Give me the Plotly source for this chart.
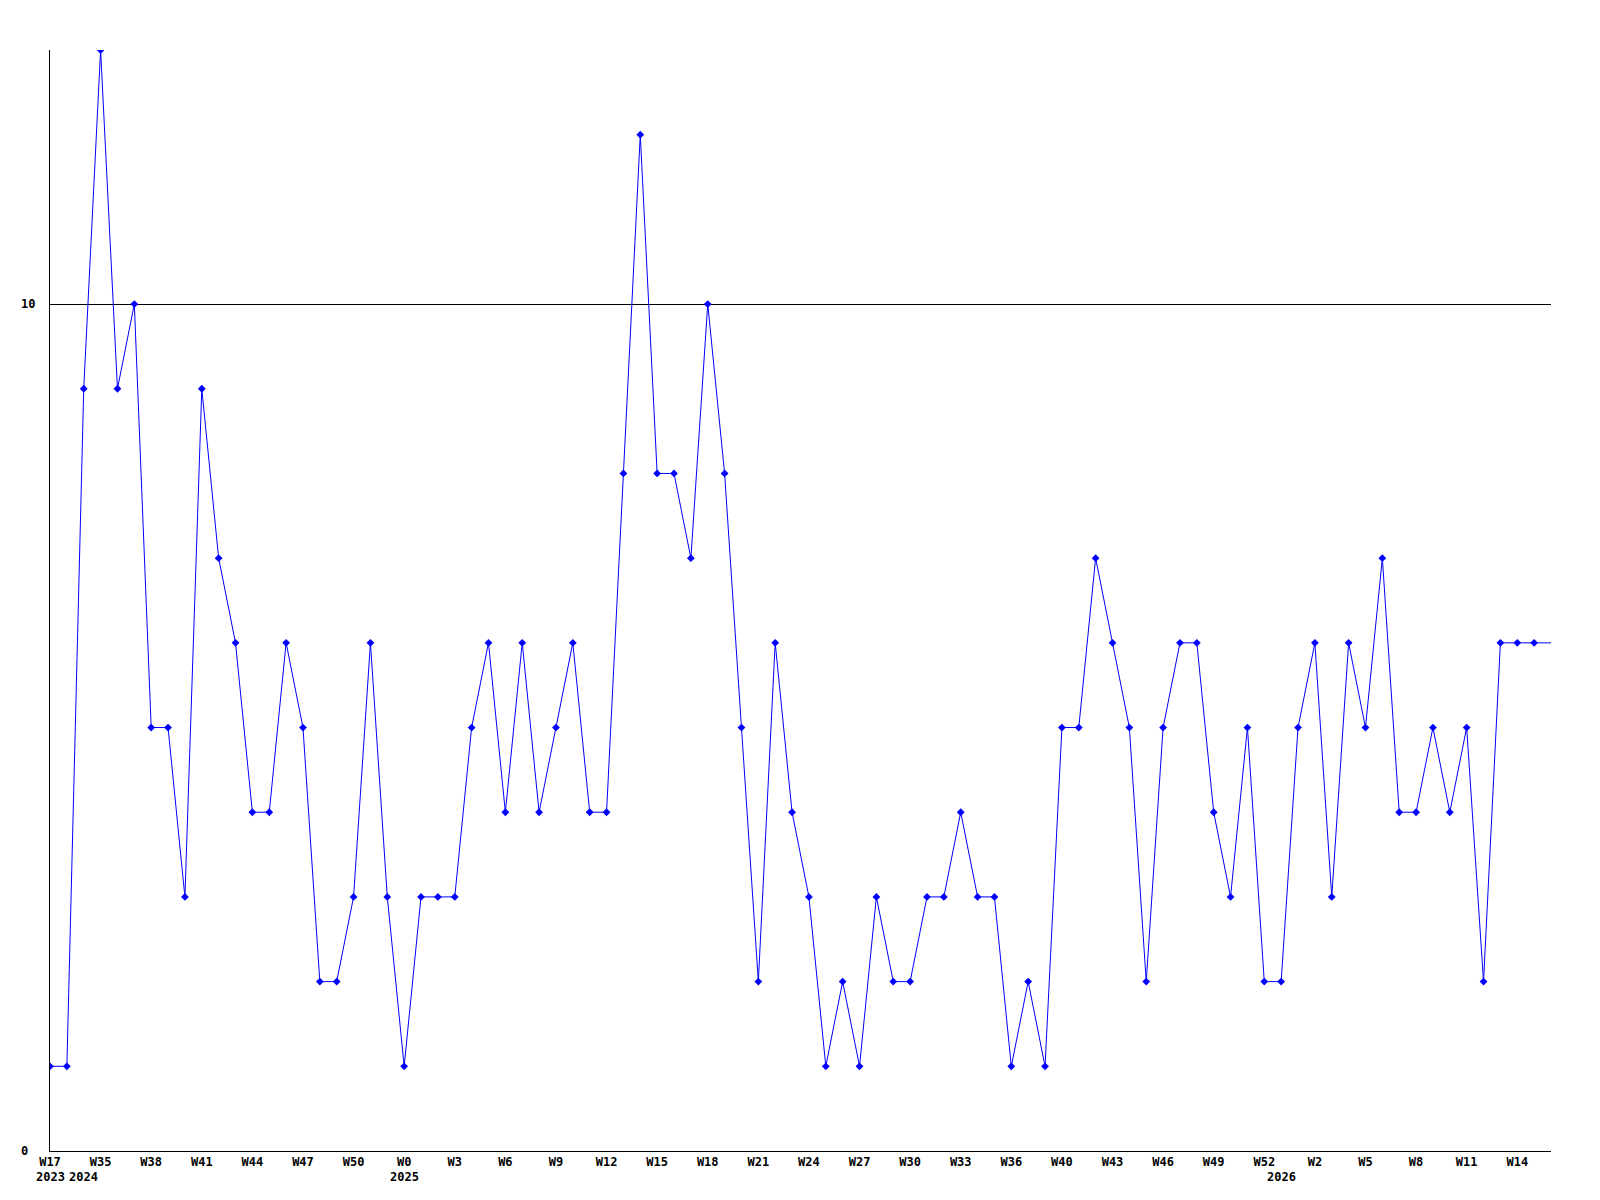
import plotly.graph_objects as go

values = [1, 1, 9, 13, 9, 10, 5, 5, 3, 9,
          7, 6, 4, 4, 6, 5, 2, 2, 3, 6,
          3, 1, 3, 3, 3, 5, 6, 4, 6, 4,
          5, 6, 4, 4, 8, 12, 8, 8, 7, 10,
          8, 5, 2, 6, 4, 3, 1, 2, 1, 3,
          2, 2, 3, 3, 4, 3, 3, 1, 2, 1,
          5, 5, 7, 6, 5, 2, 5, 6, 6, 4,
          3, 5, 2, 2, 5, 6, 3, 6, 5, 7,
          4, 4, 5, 4, 5, 2, 6, 6, 6, 6]
x_idx = list(range(len(values)))

tick_idx = list(range(0, 88, 3))
tick_labels = ["W17", "W35", "W38", "W41", "W44", "W47", "W50", "W0", "W3", "W6",
               "W9", "W12", "W15", "W18", "W21", "W24", "W27", "W30", "W33", "W36",
               "W40", "W43", "W46", "W49", "W52", "W2", "W5", "W8", "W11", "W14"]

year_idx = [0, 2, 21, 73]
year_labels = ["2023", "2024", "2025", "2026"]

y_ticks = [0, 10]

FONT = "DejaVu Sans Mono"
BLUE = "#0000FF"

fig = go.Figure()
fig.add_trace(go.Scatter(x=x_idx, y=values, mode="lines",
                         line=dict(color=BLUE, width=1), showlegend=False,
                         hoverinfo="skip"))
fig.add_trace(go.Scatter(x=x_idx[:-1], y=values[:-1], mode="markers",
                         marker=dict(color=BLUE, symbol="diamond", size=6),
                         showlegend=False))

for xi, lab in zip(year_idx, year_labels):
    fig.add_annotation(x=xi, y=-0.0236, xref="x", yref="paper", text=lab,
                       showarrow=False, xanchor="center", yanchor="middle",
                       font=dict(family=FONT, size=12, color="black", weight="bold"))

for yv in y_ticks:
    fig.add_annotation(x=-0.0207, y=yv, xref="paper", yref="y", text=str(yv),
                       showarrow=False, xanchor="left", yanchor="middle",
                       font=dict(family=FONT, size=12, color="black", weight="bold"))

fig.update_layout(
    width=1600, height=1200,
    margin=dict(l=42, r=57, t=42, b=57, pad=0),
    paper_bgcolor="white", plot_bgcolor="white",
    font=dict(family=FONT, size=12, color="black"),
    xaxis=dict(range=[0, 89], tickmode="array", tickvals=tick_idx, ticktext=tick_labels,
               showgrid=False, zeroline=False, showline=True, linecolor="black",
               linewidth=1, ticks="", ticklen=0, ticklabelstandoff=0,
               tickfont=dict(family=FONT, size=12, color="black", weight="bold")),
    yaxis=dict(range=[0, 13], tickmode="array", tickvals=[10], showticklabels=False,
               showgrid=True, gridcolor="black", gridwidth=1, zeroline=False,
               showline=True, linecolor="black", linewidth=1, ticks=""),
)

fig.write_html("out.html")
